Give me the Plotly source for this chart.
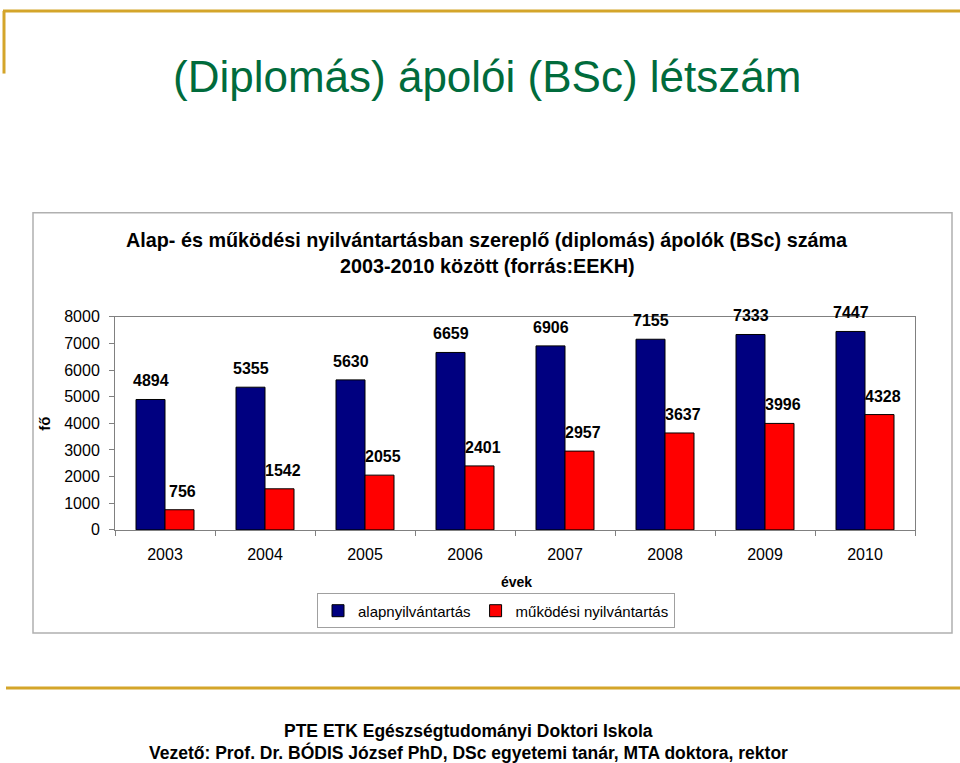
import plotly.graph_objects as go

years = ["2003", "2004", "2005", "2006", "2007", "2008", "2009", "2010"]
alap = [4894, 5355, 5630, 6659, 6906, 7155, 7333, 7447]
mukodesi = [756, 1542, 2055, 2401, 2957, 3637, 3996, 4328]
series_names = ["alapnyilvántartás", "működési nyilvántartás"]
y_ticks = [0, 1000, 2000, 3000, 4000, 5000, 6000, 7000, 8000]

W, H = 960, 763
# measured page-capture mapping: shown_y = OFF + SC * figure_y
OFF, SC = 8.5, 0.977
def px(x):
    return x / W
def py(y):
    return 1 - ((y - OFF) / SC) / H

FONT = "Liberation Sans, Arial, sans-serif"
GOLD = "#D4A52A"
GRAY = "#A0A0A0"
BARGAP = 0.42

fig = go.Figure()
for vals, name, color in [(alap, series_names[0], "#000080"), (mukodesi, series_names[1], "#FF0000")]:
    fig.add_trace(go.Bar(
        x=years, y=vals, name=name,
        marker=dict(color=color, line=dict(color="black", width=1)),
    ))

fig.update_layout(
    width=W, height=H,
    margin=dict(l=0, r=0, t=0, b=0),
    paper_bgcolor="white", plot_bgcolor="white",
    barmode="group", bargap=BARGAP, bargroupgap=0,
    font=dict(family=FONT, color="black"),
    showlegend=True,
    legend=dict(
        orientation="h", x=px(496), y=py(611), xanchor="center", yanchor="middle",
        bordercolor=GRAY, borderwidth=1, font=dict(family=FONT, size=15),
        bgcolor="white",
    ),
    xaxis=dict(
        type="category",
        domain=[px(115), px(915)],
        showline=True, linecolor="#808080", linewidth=1, mirror=True,
        ticks="outside", tickson="boundaries", ticklen=5, tickcolor="#808080",
        tickfont=dict(family=FONT, size=16), ticklabelstandoff=10,
        showgrid=False,
    ),
    yaxis=dict(
        domain=[py(530), py(317)],
        range=[0, 8000], tickvals=y_ticks,
        showline=True, linecolor="#808080", linewidth=1, mirror=True,
        ticks="outside", ticklen=5, tickcolor="#808080",
        tickfont=dict(family=FONT, size=16), ticklabelstandoff=6,
        showgrid=False, zeroline=False,
    ),
)

top_y = 1 - 3 / H
shapes = [
    dict(type="line", xref="paper", yref="paper", x0=px(3), x1=1, y0=top_y, y1=top_y,
         line=dict(color=GOLD, width=3)),
    dict(type="line", xref="paper", yref="paper", x0=px(4), x1=px(4), y0=top_y, y1=py(74),
         line=dict(color=GOLD, width=3)),
    dict(type="line", xref="paper", yref="paper", x0=px(6), x1=1, y0=py(688), y1=py(688),
         line=dict(color=GOLD, width=3)),
    dict(type="rect", xref="paper", yref="paper", x0=px(33), x1=px(952), y0=py(213), y1=py(633),
         line=dict(color="#B0B0B0", width=1.5), layer="below"),
]
fig.update_layout(shapes=shapes)

# data labels (category axis: annotation x is the category index)
cat_px = 800 / len(years)
half = cat_px * (1 - BARGAP) / 4
ann = []
for vals, dx in [(alap, -half), (mukodesi, half + 3)]:
    for i, v in enumerate(vals):
        ann.append(dict(text="<b>%d</b>" % v, x=i, y=v, xref="x", yref="y",
                        xshift=dx, yshift=8, xanchor="center", yanchor="bottom",
                        font=dict(family=FONT, size=16, color="black"), showarrow=False))

texts = [
    dict(text="(Diplomás) ápolói (BSc) létszám", x=px(487), y=py(77), xanchor="center", yanchor="middle",
         font=dict(family=FONT, size=44, color="#006B3C")),
    dict(text="<b>Alap- és működési nyilvántartásban szereplő (diplomás) ápolók (BSc) száma</b>",
         x=px(487), y=py(240), xanchor="center", yanchor="middle", font=dict(family=FONT, size=19.8)),
    dict(text="<b>2003-2010 között (forrás:EEKH)</b>",
         x=px(487), y=py(266), xanchor="center", yanchor="middle", font=dict(family=FONT, size=19.8)),
    dict(text="<b>évek</b>", x=px(516), y=py(582), xanchor="center", yanchor="middle",
         font=dict(family=FONT, size=14)),
    dict(text="<b>fő</b>", x=px(45), y=py(424), xanchor="center", yanchor="middle", textangle=-90,
         font=dict(family=FONT, size=15)),
    dict(text="<b>PTE ETK Egészségtudományi Doktori Iskola</b>",
         x=px(468), y=py(731), xanchor="center", yanchor="middle",
         font=dict(family=FONT, size=17.5)),
    dict(text="<b>Vezető: Prof. Dr. BÓDIS József PhD, DSc egyetemi tanár, MTA doktora, rektor</b>",
         x=px(468), y=py(752), xanchor="center", yanchor="middle",
         font=dict(family=FONT, size=17.5)),
]
for a in texts:
    a.update(xref="paper", yref="paper", showarrow=False)
fig.update_layout(annotations=ann + texts)

fig.write_html("out.html")
